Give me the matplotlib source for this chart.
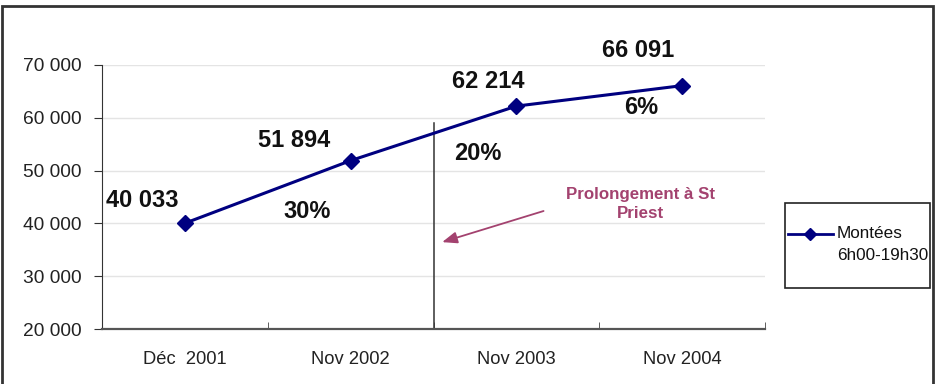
import matplotlib
matplotlib.use("Agg")
import matplotlib.pyplot as plt
from matplotlib.patches import Rectangle
from matplotlib.lines import Line2D

plt.rcParams['font.family'] = ['Liberation Sans', 'DejaVu Sans']

# donnees
mois = ['Déc  2001', 'Nov 2002', 'Nov 2003', 'Nov 2004']
montees = [40033, 51894, 62214, 66091]
labels_val = ['40 033', '51 894', '62 214', '66 091']
hausses = ['30%', '20%', '6%']
yticks = [20000, 30000, 40000, 50000, 60000, 70000]
ytick_labels = ['20 000', '30 000', '40 000', '50 000', '60 000', '70 000']
serie = 'Montées'
horaire = '6h00-19h30'

bleu = '#000080'
rose = '#a3426f'
px = 0.72  # 1 pixel en points a 100 dpi

fig = plt.figure(figsize=(9.38, 3.84), dpi=100)
ax = fig.add_axes([102/938, 1 - 329/384, (765 - 102)/938, (329 - 65)/384])

x = list(range(len(mois)))
ax.plot(x, montees, color=bleu, lw=2.2, marker='D', ms=8.5, mfc=bleu, mec=bleu, zorder=3)

ax.set_xlim(-0.5, 3.5)
ax.set_ylim(20000, 70000)
ax.set_yticks(yticks)
ax.set_yticklabels(ytick_labels)
ax.set_xticks(x)
ax.set_xticklabels(mois)
ax.set_xticks([-0.5, 0.5, 1.5, 2.5, 3.5], minor=True)
ax.tick_params(axis='x', which='major', length=0, pad=16, labelsize=13.2, labelcolor='#222222')
ax.tick_params(axis='x', which='minor', length=5, direction='in', color='#444444')
ax.tick_params(axis='y', length=6, direction='out', pad=9, labelsize=13.8,
               colors='#333333', labelcolor='#222222')

ax.grid(axis='y', color='#e4e4e4', lw=1)
ax.set_axisbelow(True)
for s in ['top', 'right']:
    ax.spines[s].set_visible(False)
ax.spines['left'].set_color('#333333')
ax.spines['bottom'].set_color('#555555')
ax.spines['bottom'].set_linewidth(1.6)

# etiquettes de valeurs
offsets = [(-43, 23), (-56, 20), (-28, 25), (-44, 35)]
for xi, v, lab, (dx, dy) in zip(x, montees, labels_val, offsets):
    ax.annotate(lab, (xi, v), xytext=(dx*px, dy*px), textcoords='offset points',
                ha='center', va='center', fontsize=17, fontweight='bold', color='#111111')

# pourcentages
pos_pct = [(0.74, 42200), (1.765, 53300), (2.753, 61900)]
for (tx, ty), t in zip(pos_pct, hausses):
    ax.text(tx, ty, t, ha='center', va='center', fontsize=17, fontweight='bold', color='#111111')

# prolongement
ax.plot([1.5, 1.5], [20000, 59000], color='#333333', lw=1.1, zorder=2)
ax.annotate('', xy=(1.536, 36300), xytext=(2.18, 42500),
            arrowprops=dict(arrowstyle='-|>,head_length=0.9,head_width=0.35', color=rose, lw=1.3))
ax.text(2.75, 43700, 'Prolongement à St\nPriest', ha='center', va='center',
        fontsize=12.2, fontweight='bold', color=rose, linespacing=1.3)

# legende
fig.patches.append(Rectangle((785/938, 1 - 288/384), 145/938, 85/384,
                             transform=fig.transFigure, fill=False, ec='#222222', lw=1.2))
fig.add_artist(Line2D([788/938, 833/938], [1 - 234/384, 1 - 234/384], transform=fig.transFigure,
                      color=bleu, lw=2))
fig.add_artist(Line2D([810/938], [1 - 234/384], transform=fig.transFigure,
                      color=bleu, marker='D', ms=6.5))
fig.text(837/938, 1 - 234/384, serie, ha='left', va='center', fontsize=12.3, color='#111111')
fig.text(837/938, 1 - 255/384, horaire, ha='left', va='center', fontsize=12.3, color='#111111')

# cadre exterieur
fig.patches.append(Rectangle((2/938, -0.05), 931/938, 1.05 - 6/384,
                             transform=fig.transFigure, fill=False, ec='#333333', lw=2))

fig.savefig('out.png', dpi=100)
